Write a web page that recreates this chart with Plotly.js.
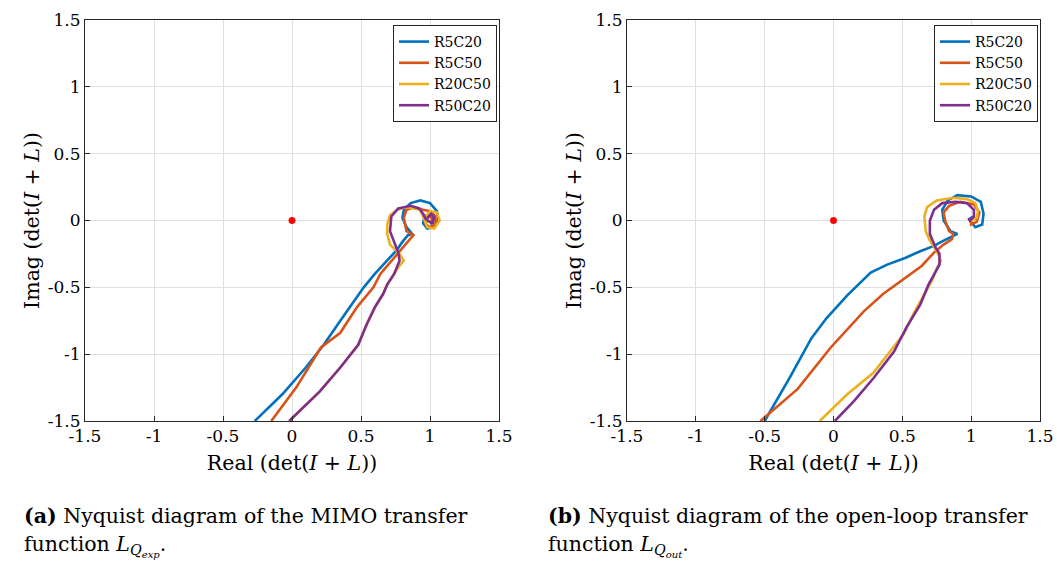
<!DOCTYPE html>
<html>
<head>
<meta charset="utf-8">
<script src="https://cdn.plot.ly/plotly-3.0.1.min.js"></script>
<style>html,body{margin:0;padding:0;background:#fff;}#plot{width:1057px;height:561px;}</style>
</head>
<body>
<div id="plot"></div>
<script>
// Series names
const seriesNames = ["R5C20", "R5C50", "R20C50", "R50C20"];
const seriesColors = ["#0072BD", "#D95319", "#EDB120", "#7E2F8E"];

// Panel (a): Nyquist of MIMO transfer function L_Qexp
const a_R5C20_re = [-0.27,-0.07,0.10,0.23,0.35,0.45,0.52,0.60,0.66,0.72,0.76,0.80,0.84,0.87,0.83,0.80,0.81,0.86,0.93,1.00,1.05,1.06,1.03,0.98,0.95,0.96,1.00,1.03,1.02,1.00];
const a_R5C20_im = [-1.50,-1.30,-1.10,-0.93,-0.75,-0.60,-0.50,-0.40,-0.33,-0.26,-0.22,-0.16,-0.11,-0.10,-0.05,0.02,0.08,0.13,0.15,0.13,0.07,0.00,-0.05,-0.06,-0.02,0.03,0.05,0.02,-0.02,-0.02];
const a_R5C50_re = [-0.15,0.03,0.21,0.35,0.47,0.59,0.64,0.74,0.81,0.88,0.83,0.81,0.83,0.89,0.95,1.00,1.04,1.04,1.00,0.97,0.97,1.00,1.02,1.00];
const a_R5C50_im = [-1.50,-1.25,-0.95,-0.84,-0.65,-0.50,-0.40,-0.28,-0.20,-0.11,-0.08,0.02,0.08,0.10,0.08,0.07,0.03,-0.03,-0.05,-0.03,0.01,0.03,0.01,-0.01];
const a_R20C50_re = [-0.02,0.20,0.35,0.48,0.54,0.60,0.66,0.69,0.74,0.77,0.81,0.78,0.71,0.69,0.69,0.71,0.76,0.83,0.93,0.95,0.98,1.03,1.07,1.05,1.00,0.97,0.98,1.01];
const a_R20C50_im = [-1.50,-1.28,-1.10,-0.93,-0.78,-0.65,-0.55,-0.48,-0.40,-0.35,-0.30,-0.25,-0.18,-0.10,-0.03,0.04,0.08,0.10,0.08,0.03,-0.05,-0.06,0.00,0.06,0.07,0.03,-0.01,0.00];
const a_R50C20_re = [-0.02,0.20,0.35,0.48,0.54,0.60,0.66,0.69,0.74,0.76,0.78,0.77,0.74,0.71,0.72,0.77,0.86,0.92,0.95,0.97,1.01,1.03,1.01,0.98];
const a_R50C20_im = [-1.50,-1.28,-1.10,-0.93,-0.78,-0.65,-0.55,-0.48,-0.40,-0.35,-0.30,-0.24,-0.16,-0.08,0.03,0.09,0.11,0.09,0.05,0.01,-0.02,0.02,0.05,0.02];

// Panel (b): Nyquist of open-loop transfer function L_Qout
const b_R5C20_re = [-0.50,-0.32,-0.16,-0.05,0.10,0.27,0.39,0.52,0.63,0.73,0.80,0.90,0.85,0.80,0.79,0.83,0.90,1.00,1.07,1.09,1.08,1.03,1.00,1.00,1.02,1.01];
const b_R5C20_im = [-1.50,-1.18,-0.88,-0.73,-0.56,-0.39,-0.33,-0.28,-0.23,-0.19,-0.15,-0.10,-0.08,0.00,0.08,0.15,0.19,0.18,0.14,0.05,-0.03,-0.05,-0.01,0.02,0.03,0.01];
const b_R5C50_re = [-0.53,-0.26,-0.02,0.22,0.36,0.51,0.64,0.73,0.80,0.86,0.87,0.84,0.81,0.80,0.84,0.92,1.02,1.06,1.04,1.00,1.00,1.02];
const b_R5C50_im = [-1.50,-1.26,-0.95,-0.68,-0.55,-0.44,-0.34,-0.24,-0.18,-0.14,-0.10,-0.08,0.00,0.06,0.11,0.14,0.12,0.06,-0.01,-0.03,0.00,0.02];
const b_R20C50_re = [-0.10,0.10,0.29,0.41,0.51,0.58,0.66,0.72,0.75,0.78,0.75,0.70,0.67,0.66,0.68,0.75,0.87,0.97,1.03,1.05,1.04,1.01,1.00];
const b_R20C50_im = [-1.50,-1.30,-1.14,-0.98,-0.85,-0.70,-0.55,-0.44,-0.36,-0.30,-0.23,-0.15,-0.08,0.03,0.10,0.15,0.17,0.16,0.13,0.07,0.02,0.00,0.02];
const b_R50C20_re = [0.01,0.15,0.29,0.44,0.53,0.63,0.69,0.73,0.77,0.77,0.74,0.70,0.70,0.73,0.79,0.89,0.97,1.02,1.02,0.99,0.98];
const b_R50C20_im = [-1.50,-1.35,-1.18,-0.98,-0.80,-0.63,-0.48,-0.41,-0.33,-0.25,-0.20,-0.10,0.00,0.08,0.13,0.14,0.13,0.08,0.03,0.00,0.02];

// Critical point
const critRe = [0];
const critIm = [0];

const tickVals = [-1.5,-1,-0.5,0,0.5,1,1.5];
const tickText = ["-1.5","-1","-0.5","0","0.5","1","1.5"];

const panelA = [[a_R5C20_re,a_R5C20_im],[a_R5C50_re,a_R5C50_im],[a_R20C50_re,a_R20C50_im],[a_R50C20_re,a_R50C20_im]];
const panelB = [[b_R5C20_re,b_R5C20_im],[b_R5C50_re,b_R5C50_im],[b_R20C50_re,b_R20C50_im],[b_R50C20_re,b_R50C20_im]];

const traces = [];
panelA.forEach((d,i)=>{
  traces.push({x:d[0], y:d[1], type:'scatter', mode:'lines', name:seriesNames[i],
    line:{color:seriesColors[i], width:2.6}, xaxis:'x', yaxis:'y', legend:'legend'});
});
traces.push({x:critRe, y:critIm, type:'scatter', mode:'markers', showlegend:false,
  marker:{symbol:'asterisk-open', color:'#ff0000', size:6, line:{color:'#ff0000', width:2.2}}, xaxis:'x', yaxis:'y'});
panelB.forEach((d,i)=>{
  traces.push({x:d[0], y:d[1], type:'scatter', mode:'lines', name:seriesNames[i],
    line:{color:seriesColors[i], width:2.6}, xaxis:'x2', yaxis:'y2', legend:'legend2'});
});
traces.push({x:critRe, y:critIm, type:'scatter', mode:'markers', showlegend:false,
  marker:{symbol:'asterisk-open', color:'#ff0000', size:6, line:{color:'#ff0000', width:2.2}}, xaxis:'x2', yaxis:'y2'});

const serif = 'DejaVu Serif, Liberation Serif, serif';
function axis(extra, title, standoff){
  return Object.assign({
    range:[-1.5,1.5], tickvals:tickVals, ticktext:tickText, showgrid:true, gridcolor:'#dfdfdf', gridwidth:1,
    zeroline:false, showline:true, mirror:true, linecolor:'#262626', linewidth:1,
    ticks:'inside', ticklen:5, tickcolor:'#262626', tickfont:{family:serif, size:17, color:'#000'},
    title:{text:title, font:{family:serif, size:20.5, color:'#000'}, standoff:standoff}
  }, extra);
}
const xTitle = 'Real (det(<i>I</i> + <i>L</i>))';
const yTitle = 'Imag (det(<i>I</i> + <i>L</i>))';
const yDom = [1-421/561, 1-20/561];
const legendStyle = {font:{family:serif, size:14, color:'#000'}, bgcolor:'#fff', bordercolor:'#262626', borderwidth:1,
  xanchor:'right', yanchor:'top', y:1-25/561, tracegroupgap:0, itemwidth:30};

const capFont = {family:serif, size:20.5, color:'#000'};
const layout = {
  width:1057, height:561, margin:{l:0,r:0,t:0,b:0}, paper_bgcolor:'#fff', plot_bgcolor:'#fff',
  showlegend:true,
  xaxis: axis({domain:[85/1057, 499/1057], anchor:'y'}, xTitle, 10),
  yaxis: axis({domain:yDom, anchor:'x'}, yTitle, 2),
  xaxis2: axis({domain:[627/1057, 1040/1057], anchor:'y2'}, xTitle, 10),
  yaxis2: axis({domain:yDom, anchor:'x2'}, yTitle, 2),
  legend: Object.assign({}, legendStyle, {x:497/1057}),
  legend2: Object.assign({}, legendStyle, {x:1038/1057}),
  annotations:[
    {xref:'paper', yref:'paper', x:22/1057, y:1-516/561, xanchor:'left', yanchor:'middle', showarrow:false, align:'left',
     text:'<b>(a)</b> Nyquist diagram of the MIMO transfer', font:capFont},
    {xref:'paper', yref:'paper', x:22/1057, y:1-546/561, xanchor:'left', yanchor:'middle', showarrow:false, align:'left',
     text:'function <i>L</i><sub><i>Q</i><sub><i>exp</i></sub></sub>.', font:capFont},
    {xref:'paper', yref:'paper', x:546/1057, y:1-516/561, xanchor:'left', yanchor:'middle', showarrow:false, align:'left',
     text:'<b>(b)</b> Nyquist diagram of the open-loop transfer', font:capFont},
    {xref:'paper', yref:'paper', x:546/1057, y:1-546/561, xanchor:'left', yanchor:'middle', showarrow:false, align:'left',
     text:'function <i>L</i><sub><i>Q</i><sub><i>out</i></sub></sub>.', font:capFont}
  ]
};

Plotly.newPlot('plot', traces, layout, {staticPlot:true, displayModeBar:false});
</script>
</body>
</html>
